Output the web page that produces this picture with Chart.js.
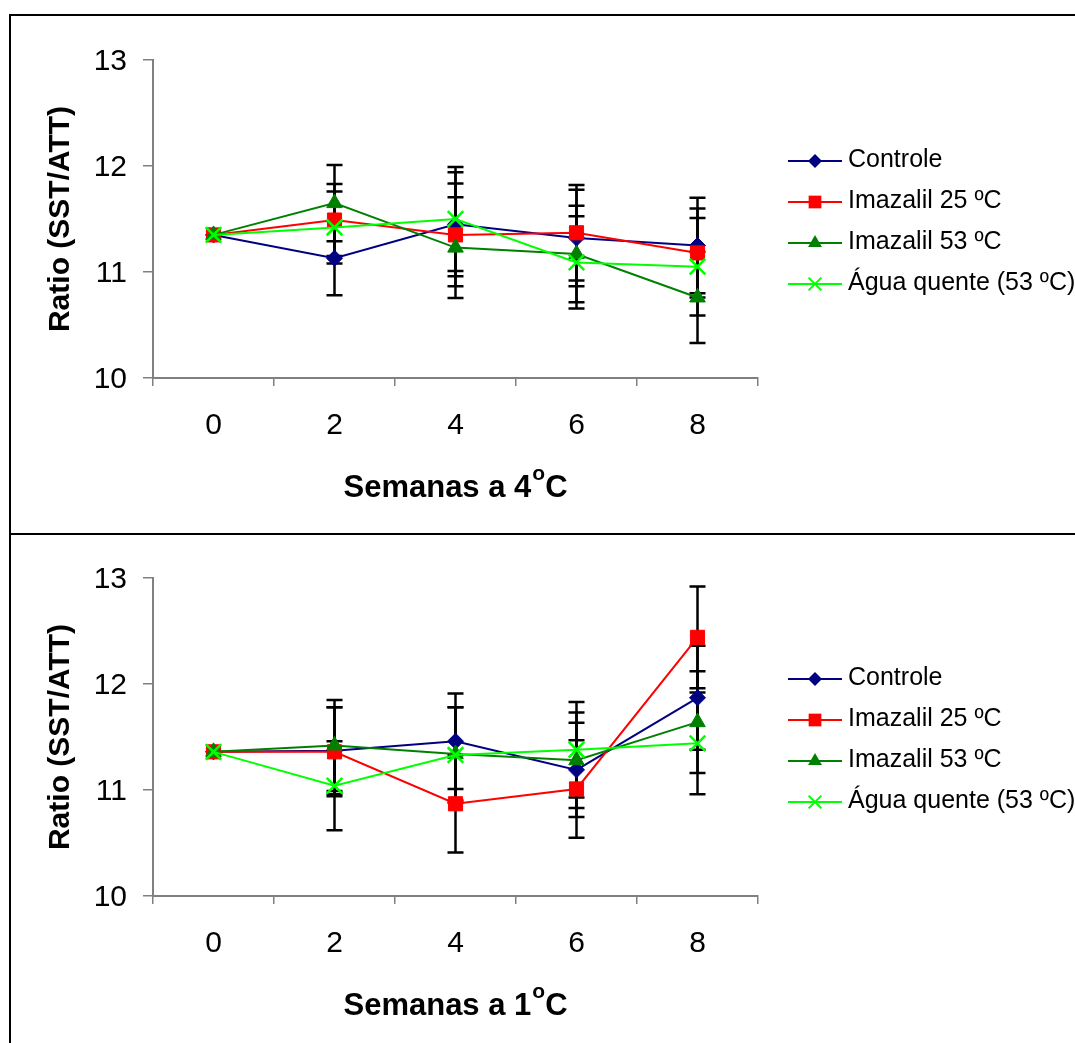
<!DOCTYPE html>
<html>
<head>
<meta charset="utf-8">
<script src="https://cdn.jsdelivr.net/npm/chart.js@4.4.1/dist/chart.umd.min.js"></script>
<style>
  html, body { margin: 0; padding: 0; background: #fff; }
  body { width: 1075px; height: 1043px; overflow: hidden; position: relative; }
  .hline { position: absolute; left: 9px; width: 1100px; height: 2px; background: #000; }
  .vline { position: absolute; left: 9px; top: 14px; width: 2px; height: 1100px; background: #000; }
  canvas { position: absolute; left: 0; }
</style>
</head>
<body>
<div class="hline" style="top:14px"></div>
<div class="hline" style="top:533px"></div>
<div class="vline"></div>
<canvas id="c4" width="1075" height="534" style="top:0px"></canvas>
<canvas id="c1" width="1075" height="509" style="top:534px"></canvas>
<script>
// ---------- data ----------
const weeks = ['0', '2', '4', '6', '8'];
const seriesLabels = ['Controle', 'Imazalil 25 ºC', 'Imazalil 53 ºC', 'Água quente (53 ºC)'];
const yTicks = [10, 11, 12, 13];
const yTitle = 'Ratio (SST/ATT)';
const xTitle4 = ['Semanas a 4', 'o', 'C'];
const xTitle1 = ['Semanas a 1', 'o', 'C'];

// Storage at 4 °C
const controle4 = [11.35, 11.13, 11.45, 11.32, 11.25];
const imazalil25_4 = [11.35, 11.49, 11.35, 11.37, 11.18];
const imazalil53_4 = [11.35, 11.65, 11.23, 11.17, 10.76];
const agua4 = [11.35, 11.42, 11.50, 11.09, 11.05];
const controle4Err = [0, 0.35, 0.49, 0.455, 0.45];
const imazalil25_4Err = [0, 0.34, 0.485, 0.45, 0.42];
const imazalil53_4Err = [0, 0.36, 0.475, 0.455, 0.43];
const agua4Err = [0, 0.34, 0.49, 0.435, 0.46];

// Storage at 1 °C
const controle1 = [11.36, 11.37, 11.46, 11.19, 11.87];
const imazalil25_1 = [11.36, 11.36, 10.87, 11.01, 12.44];
const imazalil53_1 = [11.36, 11.42, 11.34, 11.28, 11.64];
const agua1 = [11.36, 11.04, 11.33, 11.38, 11.44];
const controle1Err = [0, 0.41, 0.45, 0.445, 0.49];
const imazalil25_1Err = [0, 0.42, 0.46, 0.46, 0.48];
const imazalil53_1Err = [0, 0.43, 0.44, 0.45, 0.48];
const agua1Err = [0, 0.42, 0.45, 0.45, 0.48];

// ---------- styles ----------
const colors = ['#000080', '#FF0000', '#008000', '#00FF00'];
const styles = ['rectRot', 'rect', 'triangle', 'crossRot'];
const radii = [8, 10, 9, 11];
const legendRadii = [7, 9, 8, 9];
const FONT = "'Liberation Sans', Arial, Helvetica, sans-serif";

function drawMarker(ctx, style, x, y, r, color) {
  ctx.save();
  ctx.fillStyle = color;
  ctx.strokeStyle = color;
  ctx.lineWidth = 2;
  ctx.beginPath();
  if (style === 'rectRot') {
    ctx.moveTo(x, y - r); ctx.lineTo(x + r, y); ctx.lineTo(x, y + r); ctx.lineTo(x - r, y); ctx.closePath(); ctx.fill();
  } else if (style === 'rect') {
    const s = r * Math.SQRT1_2;
    ctx.rect(x - s, y - s, 2 * s, 2 * s); ctx.fill();
  } else if (style === 'triangle') {
    const h = r * Math.sqrt(3) / 2;
    ctx.moveTo(x, y - r); ctx.lineTo(x + h, y + r / 2); ctx.lineTo(x - h, y + r / 2); ctx.closePath(); ctx.fill();
  } else {
    const s = r * Math.SQRT1_2;
    ctx.moveTo(x - s, y - s); ctx.lineTo(x + s, y + s); ctx.moveTo(x + s, y - s); ctx.lineTo(x - s, y + s); ctx.stroke();
  }
  ctx.restore();
}

const errorBars = {
  id: 'errorBars',
  beforeDatasetsDraw(chart) {
    const ctx = chart.ctx, xs = chart.scales.x, ys = chart.scales.y;
    ctx.save();
    ctx.strokeStyle = '#000';
    ctx.lineWidth = 2.5;
    chart.data.datasets.forEach(ds => {
      ds.data.forEach((v, i) => {
        const e = ds.errors[i];
        if (!e) return;
        const x = xs.getPixelForValue(i);
        const yt = ys.getPixelForValue(v + e);
        const yb = ys.getPixelForValue(v - e);
        ctx.beginPath();
        ctx.moveTo(x, yt); ctx.lineTo(x, yb);
        ctx.moveTo(x - 8, yt); ctx.lineTo(x + 8, yt);
        ctx.moveTo(x - 8, yb); ctx.lineTo(x + 8, yb);
        ctx.stroke();
      });
    });
    ctx.restore();
  }
};

const customLegend = {
  id: 'customLegend',
  afterDraw(chart) {
    const ctx = chart.ctx, a = chart.chartArea;
    ctx.save();
    chart.data.datasets.forEach((ds, k) => {
      const y = a.top + 101 + 41 * k;
      ctx.strokeStyle = colors[k];
      ctx.lineWidth = 2;
      ctx.beginPath();
      ctx.moveTo(a.right + 30, y); ctx.lineTo(a.right + 84, y);
      ctx.stroke();
      drawMarker(ctx, styles[k], a.right + 57, y, legendRadii[k], colors[k]);
      ctx.fillStyle = '#000';
      ctx.font = '25px ' + FONT;
      ctx.textBaseline = 'middle';
      ctx.textAlign = 'left';
      ctx.fillText(ds.label, a.right + 90, y - 1);
    });
    ctx.restore();
  }
};

const xTitlePlugin = {
  id: 'xTitlePlugin',
  afterDraw(chart, args, opts) {
    const ctx = chart.ctx, a = chart.chartArea;
    const parts = opts.parts;
    ctx.save();
    ctx.fillStyle = '#000';
    ctx.textBaseline = 'alphabetic';
    ctx.textAlign = 'left';
    const big = 'bold 31px ' + FONT, small = 'bold 21px ' + FONT;
    ctx.font = big; const w1 = ctx.measureText(parts[0]).width; const w3 = ctx.measureText(parts[2]).width;
    ctx.font = small; const w2 = ctx.measureText(parts[1]).width;
    const total = w1 + w2 + w3 + 1;
    let x = (a.left + a.right) / 2 - total / 2;
    const base = a.bottom + 119;
    ctx.font = big; ctx.fillText(parts[0], x, base); x += w1 + 1;
    ctx.font = small; ctx.fillText(parts[1], x, base - 17); x += w2;
    ctx.font = big; ctx.fillText(parts[2], x, base);
    ctx.restore();
  }
};

function makeDatasets(values, errs) {
  return values.map((vals, k) => ({
    label: seriesLabels[k],
    data: vals,
    errors: errs[k],
    borderColor: colors[k],
    backgroundColor: colors[k],
    borderWidth: 2,
    pointStyle: styles[k],
    pointRadius: radii[k],
    pointHoverRadius: radii[k],
    pointBorderWidth: k === 3 ? 2.5 : 1,
    pointBackgroundColor: colors[k],
    pointBorderColor: colors[k],
    tension: 0,
    fill: false,
    order: 3 - k
  }));
}

function makeChart(id, values, errs, padTop, xAxisHeight, titleParts) {
  return new Chart(document.getElementById(id), {
    type: 'line',
    data: { labels: weeks, datasets: makeDatasets(values, errs) },
    options: {
      responsive: false,
      animation: false,
      events: [],
      layout: { padding: { left: 0, top: padTop, right: 317, bottom: 0 } },
      plugins: {
        legend: { display: false },
        tooltip: { enabled: false },
        xTitlePlugin: { parts: titleParts }
      },
      scales: {
        x: {
          type: 'category',
          offset: true,
          grid: { offset: true, drawOnChartArea: false, drawTicks: true, tickLength: 8, color: '#808080', lineWidth: 1.5 },
          border: { display: true, color: '#808080', width: 2 },
          ticks: { color: '#000', font: { family: FONT, size: 30 }, padding: 22, maxRotation: 0 },
          afterFit(scale) { scale.height = xAxisHeight; }
        },
        y: {
          min: yTicks[0],
          max: yTicks[yTicks.length - 1],
          afterBuildTicks(scale) { scale.ticks = yTicks.map(v => ({ value: v })); },
          grid: { drawOnChartArea: false, drawTicks: true, tickLength: 10, color: '#808080', lineWidth: 1.5 },
          border: { display: true, color: '#808080', width: 2 },
          ticks: { color: '#000', font: { family: FONT, size: 30 }, padding: 16, labelOffset: 2 },
          title: { display: true, text: yTitle, color: '#000', font: { family: FONT, size: 30, weight: 'bold' }, padding: { top: 43, bottom: 0 } },
          afterFit(scale) { scale.width = 153; }
        }
      }
    },
    plugins: [errorBars, customLegend, xTitlePlugin]
  });
}

makeChart('c4', [controle4, imazalil25_4, imazalil53_4, agua4],
  [controle4Err, imazalil25_4Err, imazalil53_4Err, agua4Err], 60, 156, xTitle4);
makeChart('c1', [controle1, imazalil25_1, imazalil53_1, agua1],
  [controle1Err, imazalil25_1Err, imazalil53_1Err, agua1Err], 44, 147, xTitle1);
</script>
</body>
</html>
